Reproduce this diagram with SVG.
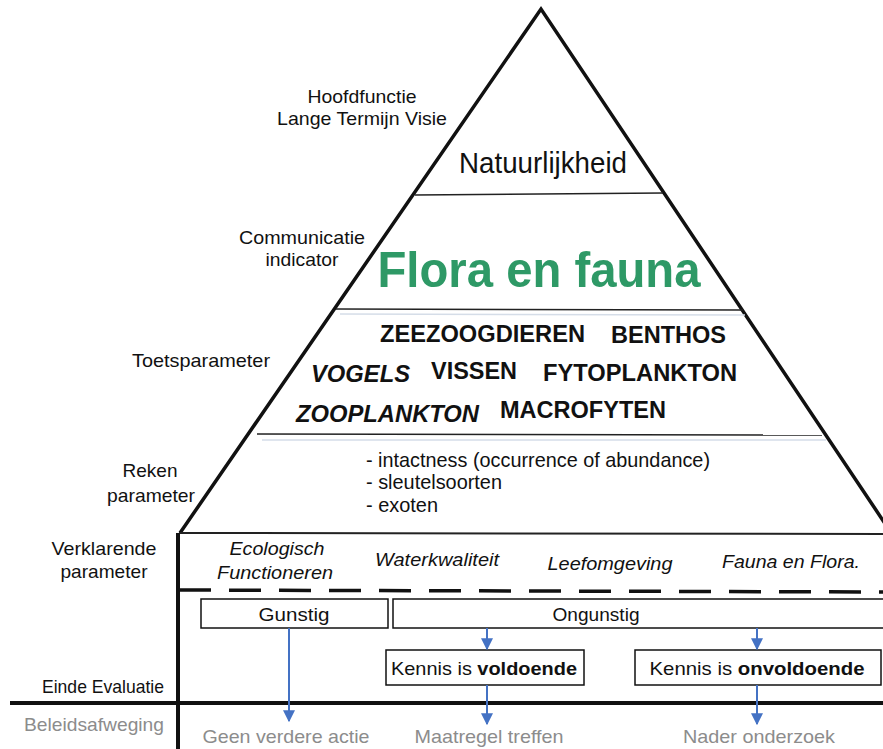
<svg xmlns="http://www.w3.org/2000/svg" width="883" height="749" viewBox="0 0 883 749">
<style>
text{font-family:"Liberation Sans",Arial,sans-serif;fill:#111}
.lbl{font-size:19px;text-anchor:middle}
.grey{fill:#8c8c8c}
.bold{font-weight:bold;font-size:24px}
.it{font-style:italic;font-size:19px;text-anchor:middle}
.box{fill:#fff;stroke:#111;stroke-width:1.5}
.arr{stroke:#4472c4;stroke-width:2;fill:none;marker-end:url(#ah)}
</style>
<defs>
<marker id="ah" viewBox="0 0 10 10" refX="9" refY="5" markerWidth="6" markerHeight="6" orient="auto" markerUnits="strokeWidth">
<path d="M0,0 L10,5 L0,10 z" fill="#4472c4"/>
</marker>
</defs>
<rect width="883" height="749" fill="#fff"/>
<g id="pyramid">
<path d="M180,533 L541,9 L890,531" fill="none" stroke="#111" stroke-width="3.5" stroke-linejoin="miter"/>
<line x1="415" y1="195" x2="663" y2="193" stroke="#222" stroke-width="1.5"/>
<line x1="336" y1="309" x2="743" y2="310" stroke="#222" stroke-width="1.5"/>
<line x1="340" y1="314" x2="745" y2="315" stroke="#d5dde8" stroke-width="1.5"/>
<line x1="257" y1="434" x2="822" y2="435" stroke="#222" stroke-width="1.5"/>
<line x1="262" y1="440" x2="826" y2="440" stroke="#d5dde8" stroke-width="1.5"/>
<line x1="179" y1="533" x2="883" y2="534" stroke="#222" stroke-width="2"/>
<line x1="178" y1="533" x2="178" y2="749" stroke="#111" stroke-width="4"/>
<line x1="10" y1="703" x2="883" y2="703" stroke="#111" stroke-width="4"/>
<line x1="179" y1="590" x2="883" y2="592" stroke="#111" stroke-width="3.5" stroke-dasharray="32 18"/>
</g>
<g id="labels-left">
<text class="lbl" x="362" y="103" textLength="109" lengthAdjust="spacingAndGlyphs">Hoofdfunctie</text>
<text class="lbl" x="362" y="125" textLength="170" lengthAdjust="spacingAndGlyphs">Lange Termijn Visie</text>
<text class="lbl" x="302" y="244" textLength="126" lengthAdjust="spacingAndGlyphs">Communicatie</text>
<text class="lbl" x="302" y="266" textLength="73" lengthAdjust="spacingAndGlyphs">indicator</text>
<text class="lbl" x="201" y="367" textLength="138" lengthAdjust="spacingAndGlyphs">Toetsparameter</text>
<text class="lbl" x="150" y="477" textLength="55" lengthAdjust="spacingAndGlyphs">Reken</text>
<text class="lbl" x="151" y="502" textLength="88" lengthAdjust="spacingAndGlyphs">parameter</text>
<text class="lbl" x="104" y="555" textLength="105" lengthAdjust="spacingAndGlyphs">Verklarende</text>
<text class="lbl" x="104" y="578" textLength="87" lengthAdjust="spacingAndGlyphs">parameter</text>
<text class="lbl" x="103" y="693" textLength="122" lengthAdjust="spacingAndGlyphs">Einde Evaluatie</text>
<text class="lbl grey" x="94" y="731" textLength="140" lengthAdjust="spacingAndGlyphs">Beleidsafweging</text>
</g>
<g id="natuurlijkheid">
<text x="543" y="173" style="font-size:30px;text-anchor:middle" textLength="168" lengthAdjust="spacingAndGlyphs">Natuurlijkheid</text>
</g>
<g id="flora-en-fauna">
<text x="539" y="287" style="font-size:50px;font-weight:bold;fill:#2e9966;text-anchor:middle" textLength="323" lengthAdjust="spacingAndGlyphs">Flora en fauna</text>
</g>
<g id="toetsparameters">
<text class="bold" x="380" y="342" textLength="205" lengthAdjust="spacingAndGlyphs">ZEEZOOGDIEREN</text>
<text class="bold" x="611" y="343" textLength="115" lengthAdjust="spacingAndGlyphs">BENTHOS</text>
<text class="bold" x="311" y="382" style="font-style:italic" textLength="99" lengthAdjust="spacingAndGlyphs">VOGELS</text>
<text class="bold" x="431" y="379" textLength="86" lengthAdjust="spacingAndGlyphs">VISSEN</text>
<text class="bold" x="543" y="381" textLength="194" lengthAdjust="spacingAndGlyphs">FYTOPLANKTON</text>
<text class="bold" x="296" y="422" style="font-style:italic" textLength="183" lengthAdjust="spacingAndGlyphs">ZOOPLANKTON</text>
<text class="bold" x="500" y="418" textLength="166" lengthAdjust="spacingAndGlyphs">MACROFYTEN</text>
</g>
<g id="rekenparameters">
<text x="366" y="467" style="font-size:21px" textLength="344" lengthAdjust="spacingAndGlyphs">- intactness (occurrence of abundance)</text>
<text x="366" y="489" style="font-size:21px" textLength="136" lengthAdjust="spacingAndGlyphs">- sleutelsoorten</text>
<text x="366" y="512" style="font-size:21px" textLength="72" lengthAdjust="spacingAndGlyphs">- exoten</text>
</g>
<g id="verklarende">
<text class="it" x="277" y="555" textLength="95" lengthAdjust="spacingAndGlyphs">Ecologisch</text>
<text class="it" x="275" y="579" textLength="116" lengthAdjust="spacingAndGlyphs">Functioneren</text>
<text class="it" x="437" y="566" textLength="124" lengthAdjust="spacingAndGlyphs">Waterkwaliteit</text>
<text class="it" x="610" y="570" textLength="125" lengthAdjust="spacingAndGlyphs">Leefomgeving</text>
<text class="it" x="791" y="568" textLength="138" lengthAdjust="spacingAndGlyphs">Fauna en Flora.</text>
</g>
<g id="gunstig"><rect class="box" x="201" y="599" width="187" height="29"/><text class="lbl" x="294" y="621" textLength="71" lengthAdjust="spacingAndGlyphs">Gunstig</text></g>
<g id="ongunstig"><rect class="box" x="393" y="599" width="495" height="29"/><text class="lbl" x="596" y="621" textLength="87" lengthAdjust="spacingAndGlyphs">Ongunstig</text></g>
<g id="voldoende"><rect class="box" x="386" y="650" width="198" height="35"/><text class="lbl" x="484" y="675" textLength="186" lengthAdjust="spacingAndGlyphs">Kennis is <tspan font-weight="bold">voldoende</tspan></text></g>
<g id="onvoldoende"><rect class="box" x="635" y="650" width="246" height="35"/><text class="lbl" x="757" y="675" textLength="215" lengthAdjust="spacingAndGlyphs">Kennis is <tspan font-weight="bold">onvoldoende</tspan></text></g>
<g id="uitkomsten">
<text class="lbl grey" x="286" y="743" textLength="167" lengthAdjust="spacingAndGlyphs">Geen verdere actie</text>
<text class="lbl grey" x="489" y="743" textLength="149" lengthAdjust="spacingAndGlyphs">Maatregel treffen</text>
<text class="lbl grey" x="759" y="743" textLength="152" lengthAdjust="spacingAndGlyphs">Nader onderzoek</text>
</g>
<g id="connectors">
<line class="arr" x1="289" y1="628" x2="289" y2="721"/>
<line class="arr" x1="487" y1="628" x2="487" y2="649"/>
<line class="arr" x1="757" y1="628" x2="757" y2="649"/>
<line class="arr" x1="487" y1="685" x2="487" y2="724"/>
<line class="arr" x1="757" y1="685" x2="757" y2="724"/>
</g>
</svg>
